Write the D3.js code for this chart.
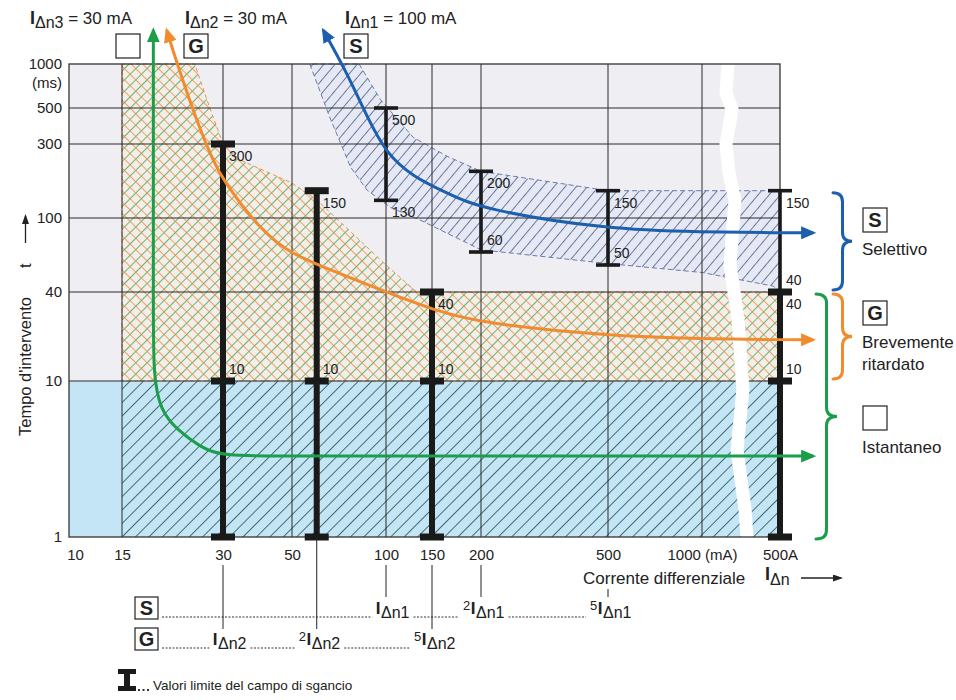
<!DOCTYPE html>
<html>
<head>
<meta charset="utf-8">
<script src="https://cdn.jsdelivr.net/npm/d3@7"></script>
<style>
  body { margin: 0; background: #fff; }
  text { font-family: Arial, "Liberation Sans", Helvetica, sans-serif; fill: #222; }
</style>
</head>
<body>
<svg id="chart" width="956" height="700"></svg>
<script>
// ---- data (current in mA, time in ms) ----
var xTicks = [10, 15, 30, 50, 100, 150, 200, 500, 1000, 500000];
var xTickLabels = ["10", "15", "30", "50", "100", "150", "200", "500", "1000 (mA)", "500A"];
var yTicks = [1, 10, 40, 100, 300, 500, 1000];
var yTickLabels = ["1", "10", "40", "100", "300", "500", "1000"];

// G and instantaneous limit bars (thick)
var gBars = [
  {i: 30, hi: 300}, {i: 60, hi: 150}, {i: 150, hi: 40}, {i: 500000, hi: 40}
];
// S limit bars (thin)
var sBars = [
  {i: 100, lo: 130, hi: 500}, {i: 200, lo: 60, hi: 200},
  {i: 500, lo: 50, hi: 150}, {i: 500000, lo: 40, hi: 150}
];
var barLabels = [
  {i: 30, t: 300, pos: "below"}, {i: 30, t: 10, pos: "above"},
  {i: 60, t: 150, pos: "below"}, {i: 60, t: 10, pos: "above"},
  {i: 150, t: 40, pos: "below"}, {i: 150, t: 10, pos: "above"},
  {i: 500000, t: 40, pos: "below"}, {i: 500000, t: 10, pos: "above"},
  {i: 100, t: 500, pos: "below"}, {i: 100, t: 130, pos: "below"},
  {i: 200, t: 200, pos: "below"}, {i: 200, t: 60, pos: "above"},
  {i: 500, t: 150, pos: "below"}, {i: 500, t: 50, pos: "above"},
  {i: 500000, t: 150, pos: "below"}, {i: 500000, t: 40, pos: "above"}
];

// tripping curves
var blueCurve = [[63,1700],[75,870],[87,440],[100,262],[127,184],[164,145],[200,114],[500,84],[1000,81],[500000,80],[7e6,80]];
var orangeCurve = [[20.4,1700],[21.7,1065],[25.6,366],[28,237],[30,175],[39.5,84],[49,59],[68,47.5],[100,40],[150,30.5],[200,24.6],[500,20.2],[1000,19.3],[500000,19],[7e6,19]];
var greenCurve = [[18.6,1700],[18.6,300],[18.6,30],[18.6,11],[19.5,6.5],[21.9,4.85],[25.6,3.8],[29.4,3.3],[50,3.3],[7e6,3.3]];

// zones
var instZone = [[15,10],[500000,10],[500000,1],[15,1]];
var gZone = [[15,1000],[24.7,1000],[27.4,500],[30,300],[34,237],[50,168],[60,131],[100,50],[131,40],[500000,40],[500000,10],[15,10]];
var sZone = [[82,1000],[96,570],[127,330],[164,250],[200,200],[500,150],[500000,150],
             [500000,40],[290000,42],[1000,47],[500,51],[200,62],[135,97],[104,117],[87,151],[77,213],[66,440],[57,1000]];

// axis break
var breakLine = [[7900,1000],[6800,630],[11000,490],[6800,300],[8600,195],[13800,130],[9300,50],[17700,26],[26000,8.8],[16300,3.6],[31000,1.5],[36000,1]];

// legend rows
var sRow = [{pre: "", sub: "\u0394n1", at: 100}, {pre: "2", sub: "\u0394n1", at: 200}, {pre: "5", sub: "\u0394n1", at: 500}];
var gRow = [{pre: "", sub: "\u0394n2", at: 30}, {pre: "2", sub: "\u0394n2", at: 60}, {pre: "5", sub: "\u0394n2", at: 150}];
var topLabels = [
  {sub: "\u0394n3", txt: " = 30 mA", box: ""},
  {sub: "\u0394n2", txt: " = 30 mA", box: "G"},
  {sub: "\u0394n1", txt: " = 100 mA", box: "S"}
];
var sideLegend = [
  {box: "S", lines: ["Selettivo"], color: "#1c5fae", from: 150, to: 40},
  {box: "G", lines: ["Brevemente", "ritardato"], color: "#f28a2e", from: 40, to: 10},
  {box: "", lines: ["Istantaneo"], color: "#1a9e4a", from: 40, to: 1}
];

// ---- scales (log-like) ----
var xLin = d3.scaleLinear()
  .domain(xTicks.map(Math.log10))
  .range([69, 122, 223, 292, 386, 432, 481, 608, 702, 780]);
var yLin = d3.scaleLinear()
  .domain([1, 10, 40, 50, 60, 100, 300, 500, 1000].map(Math.log10))
  .range([537, 381, 292, 265, 252, 218, 144, 108, 64]);
function x(v) { return xLin(Math.log10(v)); }
function y(v) { return yLin(Math.log10(v)); }

var svg = d3.select("#chart");
var defs = svg.append("defs");

var x0 = x(10), x1 = x(500000), yTop = y(1000), yBot = y(1);

function pattern(id, size, angle, bg, lines) {
  var p = defs.append("pattern")
    .attr("id", id)
    .attr("patternUnits", "userSpaceOnUse")
    .attr("width", size)
    .attr("height", size)
    .attr("patternTransform", "rotate(" + angle + ")");
  if (bg) p.append("rect").attr("width", size).attr("height", size).attr("fill", bg);
  lines.forEach(function(l) {
    if (l.dir == "v") {
      p.append("line").attr("x1", 0.5).attr("y1", 0).attr("x2", 0.5).attr("y2", size)
        .attr("stroke", l.color).attr("stroke-width", l.w);
    } else {
      p.append("line").attr("x1", 0).attr("y1", 0.5).attr("x2", size).attr("y2", 0.5)
        .attr("stroke", l.color).attr("stroke-width", l.w);
    }
  });
}
pattern("instHatch", 9.5, 45, null, [{dir: "v", color: "#35605a", w: 0.9}]);
pattern("gHatch", 8, 45, "#f3eee7", [{dir: "v", color: "#3fa560", w: 0.8}, {dir: "h", color: "#ef8a45", w: 0.8}]);
pattern("sHatch", 8.5, 40, "#e6e9f3", [{dir: "v", color: "#4b5d90", w: 0.8}]);

function marker(id, color, w, h) {
  defs.append("marker")
    .attr("id", id)
    .attr("viewBox", "0 0 10 10")
    .attr("refX", 8)
    .attr("refY", 5)
    .attr("markerUnits", "userSpaceOnUse")
    .attr("markerWidth", w)
    .attr("markerHeight", h)
    .attr("preserveAspectRatio", "none")
    .attr("orient", "auto-start-reverse")
    .append("path")
    .attr("d", "M0,0 L10,5 L0,10 Z")
    .attr("fill", color);
}
marker("arrBlue", "#1c5fae", 15, 13);
marker("arrOrange", "#f28a2e", 15, 13);
marker("arrGreen", "#1a9e4a", 15, 13);
marker("arrBlack", "#222", 10, 7);

// ---- plot background ----
svg.append("rect").attr("x", x0).attr("y", yTop).attr("width", x1 - x0).attr("height", y(10) - yTop).attr("fill", "#efeff3");
svg.append("rect").attr("x", x0).attr("y", y(10)).attr("width", x1 - x0).attr("height", yBot - y(10)).attr("fill", "#c3e5f6");

var zoneLine = d3.line().x(function(d) { return x(d[0]); }).y(function(d) { return y(d[1]); });

svg.append("path").attr("d", zoneLine(instZone) + "Z").attr("fill", "url(#instHatch)");
svg.append("path").attr("d", zoneLine(gZone) + "Z").attr("fill", "url(#gHatch)")
  .attr("stroke", "#e9925a").attr("stroke-width", 1).attr("stroke-dasharray", "4,3");
svg.append("path").attr("d", zoneLine(sZone) + "Z").attr("fill", "url(#sHatch)")
  .attr("stroke", "#6a7bab").attr("stroke-width", 1).attr("stroke-dasharray", "5,3");

// ---- grid ----
var grid = svg.append("g").attr("stroke", "#2a2a2a").attr("stroke-width", 1);
grid.selectAll(".vg")
  .data(xTicks.slice(1, -1))
  .enter()
  .append("line")
  .attr("x1", function(d) { return x(d); })
  .attr("x2", function(d) { return x(d); })
  .attr("y1", yTop).attr("y2", yBot);
grid.selectAll(".hg")
  .data(yTicks.slice(1, -1))
  .enter()
  .append("line")
  .attr("x1", x0).attr("x2", x1)
  .attr("y1", function(d) { return y(d); })
  .attr("y2", function(d) { return y(d); });

// axis break
svg.append("path").attr("d", zoneLine(breakLine)).attr("fill", "none")
  .attr("stroke", "#fff").attr("stroke-width", 13).attr("stroke-linejoin", "round");

// frame
svg.append("rect").attr("x", x0).attr("y", yTop).attr("width", x1 - x0).attr("height", yBot - yTop)
  .attr("fill", "none").attr("stroke", "#333").attr("stroke-width", 1.3);

// ---- axes ----
var xAxis = d3.axisBottom(xLin)
  .tickValues(xTicks.map(Math.log10))
  .tickFormat(function(d, i) { return xTickLabels[i]; })
  .tickSize(0).tickPadding(12);
var gx = svg.append("g").attr("class", "x-axis").attr("transform", "translate(0," + yBot + ")").call(xAxis);
gx.select(".domain").remove();
gx.attr("font-size", 15).attr("font-family", "Arial, 'Liberation Sans', sans-serif");
gx.selectAll("text").attr("fill", "#222");
gx.select(".tick text").attr("dx", 6);

var yAxis = d3.axisLeft(yLin)
  .tickValues(yTicks.map(Math.log10))
  .tickFormat(function(d, i) { return yTickLabels[i]; })
  .tickSize(0).tickPadding(7);
var gy = svg.append("g").attr("class", "y-axis").attr("transform", "translate(" + x0 + ",0)").call(yAxis);
gy.select(".domain").remove();
gy.attr("font-size", 15).attr("font-family", "Arial, 'Liberation Sans', sans-serif");
gy.selectAll("text").attr("fill", "#222");
svg.append("text").attr("x", x0 - 7).attr("y", yTop + 24).attr("text-anchor", "end").attr("font-size", 15).text("(ms)");

// y title
svg.append("text").attr("transform", "translate(31,436) rotate(-90)").attr("font-size", 16.5).text("Tempo d'intervento");
svg.append("text").attr("transform", "translate(31,268) rotate(-90)").attr("font-size", 16.5).text("t");
svg.append("line").attr("x1", 25.5).attr("x2", 25.5).attr("y1", 243).attr("y2", 216)
  .attr("stroke", "#222").attr("stroke-width", 1.3).attr("marker-end", "url(#arrBlack)");

// x title
svg.append("text").attr("x", 583).attr("y", 584).attr("font-size", 17).text("Corrente differenziale");
var xt = svg.append("text").attr("x", 765).attr("y", 580).attr("font-size", 18);
xt.append("tspan").attr("font-weight", "bold").text("I");
xt.append("tspan").attr("dy", 5).attr("font-size", 16).text("\u0394n");
svg.append("line").attr("x1", 801).attr("x2", 841).attr("y1", 578).attr("y2", 578)
  .attr("stroke", "#222").attr("stroke-width", 1.3).attr("marker-end", "url(#arrBlack)");

// ---- limit bars ----
var bars = svg.append("g").attr("fill", "#1a1a1a");
bars.selectAll(".sbar")
  .data(sBars)
  .enter()
  .append("rect")
  .attr("x", function(d) { return x(d.i) - 1.8; })
  .attr("y", function(d) { return y(d.hi); })
  .attr("width", 3.6)
  .attr("height", function(d) { return y(d.lo) - y(d.hi); });
var sCaps = [];
sBars.forEach(function(d) { sCaps.push([d.i, d.hi]); sCaps.push([d.i, d.lo]); });
bars.selectAll(".scap")
  .data(sCaps)
  .enter()
  .append("rect")
  .attr("x", function(d) { return x(d[0]) - 12; })
  .attr("y", function(d) { return y(d[1]) - 1.8; })
  .attr("width", 24).attr("height", 3.6);

bars.selectAll(".gbar")
  .data(gBars)
  .enter()
  .append("rect")
  .attr("x", function(d) { return x(d.i) - 3; })
  .attr("y", function(d) { return y(d.hi); })
  .attr("width", 6)
  .attr("height", function(d) { return y(1) - y(d.hi); });
var gCaps = [];
gBars.forEach(function(d) { [d.hi, 10, 1].forEach(function(t) { gCaps.push([d.i, t]); }); });
bars.selectAll(".gcap")
  .data(gCaps)
  .enter()
  .append("rect")
  .attr("x", function(d) { return x(d[0]) - 12; })
  .attr("y", function(d) { return y(d[1]) - 3.5; })
  .attr("width", 24).attr("height", 7);

svg.append("g").selectAll("text")
  .data(barLabels)
  .enter()
  .append("text")
  .attr("x", function(d) { return x(d.i) + 6; })
  .attr("y", function(d) { return y(d.t) + (d.pos == "below" ? 17 : -7); })
  .attr("font-size", 14)
  .text(function(d) { return d.t; });

// ---- curves ----
var curveLine = d3.line()
  .x(function(d) { return x(d[0]); })
  .y(function(d) { return y(d[1]); })
  .curve(d3.curveBasis);
[[greenCurve, "#1a9e4a", "arrGreen"], [orangeCurve, "#f28a2e", "arrOrange"], [blueCurve, "#1c5fae", "arrBlue"]]
  .forEach(function(c) {
    svg.append("path")
      .attr("d", curveLine(c[0]))
      .attr("fill", "none")
      .attr("stroke", c[1])
      .attr("stroke-width", 3)
      .attr("marker-start", "url(#" + c[2] + ")")
      .attr("marker-end", "url(#" + c[2] + ")");
  });

// ---- top labels and boxes ----
var topX = [30, 185, 345];
var boxX = [116, 184, 344];
topLabels.forEach(function(d, k) {
  var t = svg.append("text").attr("x", topX[k]).attr("y", 24).attr("font-size", 17);
  t.append("tspan").attr("font-weight", "bold").attr("font-size", 18).text("I");
  t.append("tspan").attr("dy", 4).attr("font-size", 16).text(d.sub);
  t.append("tspan").attr("dy", -4).text(d.txt);
  svg.append("rect").attr("x", boxX[k]).attr("y", 34).attr("width", 24).attr("height", 24)
    .attr("fill", "#fff").attr("stroke", "#222").attr("stroke-width", 1.2);
  svg.append("text").attr("x", boxX[k] + 12).attr("y", 53).attr("text-anchor", "middle")
    .attr("font-size", 20).attr("font-weight", "bold").text(d.box);
});

// ---- side braces and legend ----
function brace(xb, y1, y2, w) {
  var ym = (y1 + y2) / 2, h = 9, xm = xb + w / 2;
  return "M" + xb + "," + y1 + " Q" + xm + "," + y1 + " " + xm + "," + (y1 + h) +
    " L" + xm + "," + (ym - h) + " Q" + xm + "," + ym + " " + (xb + w) + "," + ym +
    " Q" + xm + "," + ym + " " + xm + "," + (ym + h) +
    " L" + xm + "," + (y2 - h) + " Q" + xm + "," + y2 + " " + xb + "," + y2;
}
var braceX = [833, 833, 816];
var boxY = [208, 301, 406];
sideLegend.forEach(function(d, k) {
  svg.append("path")
    .attr("d", brace(braceX[k], y(d.from) + 2, y(d.to) - 2 + (k == 2 ? 4 : 0), k == 2 ? 21 : 19))
    .attr("fill", "none").attr("stroke", d.color).attr("stroke-width", 3).attr("stroke-linecap", "round");
  svg.append("rect").attr("x", 863).attr("y", boxY[k]).attr("width", 24).attr("height", 24)
    .attr("fill", "#fff").attr("stroke", "#222").attr("stroke-width", 1.2);
  svg.append("text").attr("x", 875).attr("y", boxY[k] + 19).attr("text-anchor", "middle")
    .attr("font-size", 20).attr("font-weight", "bold").text(d.box);
  d.lines.forEach(function(s, j) {
    svg.append("text").attr("x", 862).attr("y", boxY[k] + 47 + j * 22).attr("font-size", 17).text(s);
  });
});

// ---- bottom legend ----
function legendRow(items, base, box) {
  svg.append("rect").attr("x", 135).attr("y", base - 17).attr("width", 23).attr("height", 22)
    .attr("fill", "#fff").attr("stroke", "#222").attr("stroke-width", 1.2);
  svg.append("text").attr("x", 146.5).attr("y", base + 1).attr("text-anchor", "middle")
    .attr("font-size", 20).attr("font-weight", "bold").text(box);
  var prev = 162;
  items.forEach(function(d) {
    var g = svg.append("g");
    var pre = g.append("text").attr("y", base - 4).attr("font-size", 13).text(d.pre);
    var I = g.append("text").attr("y", base).attr("font-size", 17).attr("font-weight", "bold").text("I");
    var sub = g.append("text").attr("y", base + 4).attr("font-size", 16).text(d.sub);
    var wp = pre.node().getComputedTextLength();
    var wi = I.node().getComputedTextLength();
    var subX = x(d.at) - 5;
    var start = subX - wi - wp - (d.pre ? 1 : 0);
    pre.attr("x", start);
    I.attr("x", subX - wi - 0.5);
    sub.attr("x", subX);
    svg.append("line").attr("x1", prev).attr("x2", start - 4).attr("y1", base + 3).attr("y2", base + 3)
      .attr("stroke", "#333").attr("stroke-width", 1).attr("stroke-dasharray", "2,1.5");
    prev = subX + sub.node().getComputedTextLength() + 4;
  });
}
legendRow(sRow, 614, "S");
legendRow(gRow, 645, "G");

// connector lines from the axis
var connectors = [];
sRow.forEach(function(d) { connectors.push({at: d.at, end: 597}); });
gRow.forEach(function(d) { connectors.push({at: d.at, end: 629}); });
svg.append("g").selectAll("line")
  .data(connectors)
  .enter()
  .append("line")
  .attr("x1", function(d) { return x(d.at); })
  .attr("x2", function(d) { return x(d.at); })
  .attr("y1", function(d) { return d.at == 60 ? yBot : (d.at == 500 ? 589 : 565); })
  .attr("y2", function(d) { return d.end; })
  .attr("stroke", "#222").attr("stroke-width", 1);

// limit symbol
var ix = 127;
svg.append("rect").attr("x", ix - 9).attr("y", 669).attr("width", 18).attr("height", 5).attr("fill", "#1a1a1a");
svg.append("rect").attr("x", ix - 3).attr("y", 669).attr("width", 6).attr("height", 22).attr("fill", "#1a1a1a");
svg.append("rect").attr("x", ix - 9).attr("y", 686).attr("width", 18).attr("height", 5).attr("fill", "#1a1a1a");
svg.append("line").attr("x1", 138).attr("x2", 151).attr("y1", 690).attr("y2", 690)
  .attr("stroke", "#333").attr("stroke-width", 2).attr("stroke-dasharray", "2,2.5");
svg.append("text").attr("x", 153).attr("y", 690).attr("font-size", 13.5).text("Valori limite del campo di sgancio");
</script>
</body>
</html>
